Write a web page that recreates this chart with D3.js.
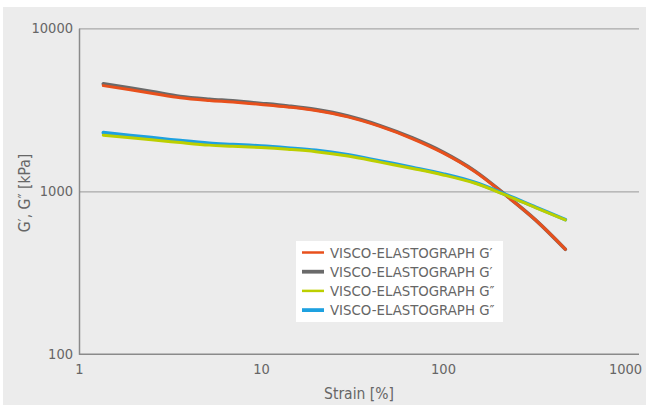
<!DOCTYPE html>
<html>
<head>
<meta charset="utf-8">
<script src="https://cdn.jsdelivr.net/npm/d3@7"></script>
<style>
  html, body { margin: 0; padding: 0; background: #ffffff; }
  svg { display: block; }
  text { font-family: "DejaVu Sans Condensed", "DejaVu Sans", sans-serif; font-stretch: condensed; fill: #666666; }
</style>
</head>
<body>
<svg id="chart" width="646" height="405"></svg>
<script>
// ---- data ----
const strain = [1.36, 2.5, 3.6, 5.2, 7, 10, 14, 20, 30, 45, 68, 100, 150, 220, 322, 470];
const gPrimeA = [4450, 4000, 3750, 3610, 3530, 3410, 3290, 3130, 2860, 2500, 2100, 1720, 1320, 950, 667, 441];
const gPrimeB = [4570, 4090, 3820, 3670, 3585, 3460, 3335, 3170, 2895, 2530, 2125, 1740, 1330, 953, 668, 441];
const gDoubleA = [2210, 2070, 1990, 1920, 1890, 1855, 1810, 1750, 1645, 1510, 1380, 1260, 1120, 950, 795, 667];
const gDoubleB = [2290, 2135, 2045, 1970, 1935, 1895, 1845, 1785, 1675, 1535, 1400, 1278, 1133, 958, 800, 670];
const seriesNames = ["VISCO-ELASTOGRAPH G\u2032", "VISCO-ELASTOGRAPH G\u2032", "VISCO-ELASTOGRAPH G\u2033", "VISCO-ELASTOGRAPH G\u2033"];
const seriesColors = ["#e8501c", "#6a6a6a", "#bccf00", "#1ea1e0"];
const xTicks = [1, 10, 100, 1000];
const yTicks = [100, 1000, 10000];
const xTitle = "Strain [%]";
const yTitle = "G\u2032, G\u2033 [kPa]";

const seriesValues = [gPrimeA, gPrimeB, gDoubleA, gDoubleB];
const seriesWidths = [3, 3.6, 3, 3.6];

const svg = d3.select("#chart");
const W = 646, H = 405;
const mLeft = 79, mRight = 625, mTop = 28.3, mBottom = 354.3;

svg.append("rect").attr("x", 3).attr("y", 7).attr("width", W - 3).attr("height", H - 7).attr("fill", "#ececec");

const x = d3.scaleLog().domain([1, 1000]).range([mLeft, mRight]);
const y = d3.scaleLog().domain([100, 10000]).range([mBottom, mTop]);

// grid lines
svg.append("g")
  .attr("transform", `translate(${mLeft},0)`)
  .call(d3.axisLeft(y).tickValues([1000, 10000]).tickSize(-(639 - mLeft)).tickFormat(""))
  .call(g => g.select(".domain").remove())
  .call(g => g.selectAll(".tick line").attr("stroke", "#a9a9a9").attr("stroke-width", 1.3));

// y axis
svg.append("g")
  .attr("transform", `translate(${mLeft},0)`)
  .call(d3.axisLeft(y).tickValues(yTicks).tickSize(0).tickPadding(6).tickFormat(d3.format("d")))
  .call(g => g.select(".domain").attr("stroke", "#8a8a8a").attr("stroke-width", 1.5))
  .call(g => g.selectAll(".tick line").remove())
  .call(g => g.selectAll("text").style("font-size", "14.5px").attr("fill", "#666666"));

// x axis
svg.append("g")
  .attr("transform", `translate(0,${mBottom})`)
  .call(d3.axisBottom(x).tickValues(xTicks).tickSize(0).tickPadding(9).tickFormat(d3.format("d")))
  .call(g => g.select(".domain").attr("d", `M${mLeft},0H639`).attr("stroke", "#8a8a8a").attr("stroke-width", 1.5))
  .call(g => g.selectAll(".tick line").remove())
  .call(g => g.selectAll("text").style("font-size", "14.5px").attr("fill", "#666666"));

// axis titles
svg.append("text").attr("x", 359).attr("y", 399).attr("text-anchor", "middle")
  .style("font-size", "15.5px").text(xTitle);
svg.append("text").attr("transform", "translate(29.5,193) rotate(-90)").attr("text-anchor", "middle")
  .style("font-size", "15.5px").text(yTitle);

// lines
const line = d3.line().x(d => x(d[0])).y(d => y(d[1])).curve(d3.curveCatmullRom.alpha(0.5));
const drawOrder = [1, 0, 3, 2];
drawOrder.forEach(i => {
  const pts = strain.map((s, k) => [s, seriesValues[i][k]]);
  svg.append("path").attr("d", line(pts)).attr("fill", "none")
    .attr("stroke", seriesColors[i]).attr("stroke-width", seriesWidths[i])
    .attr("stroke-linecap", "round").attr("stroke-linejoin", "round");
});

// legend
const lg = svg.append("g").attr("transform", "translate(296,241)");
lg.append("rect").attr("width", 207).attr("height", 81).attr("fill", "#ffffff");
seriesNames.forEach((name, i) => {
  const cy = 11.5 + i * 19.2;
  lg.append("line").attr("x1", 6).attr("x2", 28).attr("y1", cy).attr("y2", cy)
    .attr("stroke", seriesColors[i]).attr("stroke-width", i % 2 === 0 ? 2.5 : 3.8);
  lg.append("text").attr("x", 34).attr("y", cy).attr("dy", "0.36em")
    .style("font-size", "14.8px").text(name);
});
</script>
</body>
</html>
